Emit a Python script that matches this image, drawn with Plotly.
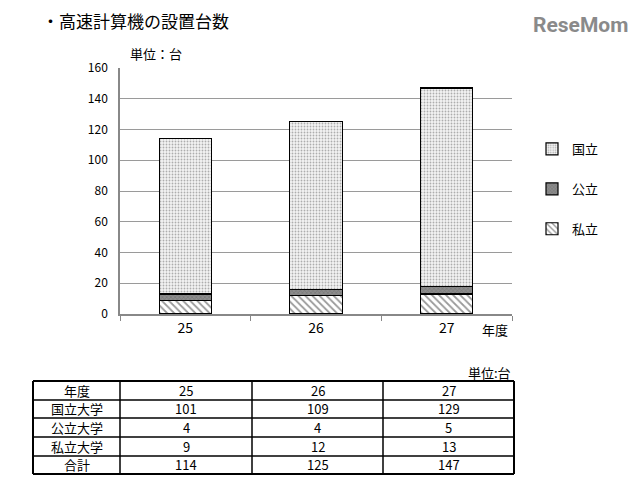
import plotly.graph_objects as go

years = ["25", "26", "27"]
kokuritsu = [101, 109, 129]
kouritsu = [4, 4, 5]
shiritsu = [9, 12, 13]
totals = [114, 125, 147]
row_labels = ["国立大学", "公立大学", "私立大学", "合計"]
y_ticks = [0, 20, 40, 60, 80, 100, 120, 140, 160]

FONT = "Noto Sans CJK JP, sans-serif"
OFF = 8  # page body margin
W, H = 640 - OFF, 503 - OFF


def fx(X):
    return (X - OFF) / W


def fy(Y):
    return 1 - (Y - OFF) / H


fig = go.Figure()

fig.add_trace(go.Bar(
    x=years, y=shiritsu, name="私立", legendgroup="c", legendrank=3,
    marker=dict(color="white", line=dict(color="black", width=1.2),
                pattern=dict(shape="\\", fgcolor="#333333", bgcolor="white", size=5, solidity=0.35)),
    width=0.4,
))
fig.add_trace(go.Bar(
    x=years, y=kouritsu, name="公立", legendgroup="b", legendrank=2,
    marker=dict(color="#7f7f7f", line=dict(color="black", width=1.2),
                pattern=dict(shape="x", fgcolor="#555555", bgcolor="#8c8c8c", size=3, solidity=0.3)),
    width=0.4,
))
fig.add_trace(go.Bar(
    x=years, y=kokuritsu, name="国立", legendgroup="a", legendrank=1,
    marker=dict(color="white", line=dict(color="black", width=1.2),
                pattern=dict(shape=".", fgcolor="#666666", bgcolor="#f4f4f4", size=3, solidity=0.3)),
    width=0.4,
))

fig.update_layout(
    width=W, height=H,
    barmode="stack",
    paper_bgcolor="white", plot_bgcolor="white",
    margin=dict(l=0, r=0, t=0, b=0, autoexpand=False),
    font=dict(family=FONT, size=12, color="black"),
    showlegend=True,
    legend=dict(x=fx(532), y=fy(134), xanchor="left", yanchor="top",
                traceorder="grouped", tracegroupgap=20,
                font=dict(family=FONT, size=13, color="black"),
                itemwidth=30, bgcolor="rgba(0,0,0,0)"),
    xaxis=dict(domain=[fx(120), fx(512)], showline=True, linecolor="#888888", linewidth=1.5,
               ticks="outside", tickcolor="#888888", ticklen=5,
               tickson="boundaries", showgrid=False,
               tickfont=dict(family=FONT, size=14, color="black")),
    yaxis=dict(domain=[fy(314), fy(68)], range=[0, 160], tickvals=y_ticks, showline=True,
               linecolor="#888888", linewidth=1.5, gridcolor="#9a9a9a", gridwidth=1,
               zeroline=False, ticks="", tickfont=dict(family=FONT, size=12, color="black"),
               ticklabelstandoff=8),
    bargap=0.6,
)

anns = [
    dict(text="・高速計算機の設置台数", x=fx(40), y=fy(20), xanchor="left", yanchor="middle",
         font=dict(size=17, family=FONT, color="black")),
    dict(text="<b>ReseMom</b>", x=fx(630), y=fy(25), xanchor="right", yanchor="middle",
         font=dict(size=21, family="Roboto, sans-serif", color="#8a8a8a")),
    dict(text="単位：台", x=fx(128), y=fy(53), xanchor="left", yanchor="middle",
         font=dict(size=13, family=FONT, color="black")),
    dict(text="年度", x=fx(480), y=fy(329), xanchor="left", yanchor="middle",
         font=dict(size=13, family=FONT, color="black")),
    dict(text="単位:台", x=fx(513), y=fy(372), xanchor="right", yanchor="middle",
         font=dict(size=13, family=FONT, color="black")),
]

# ---- data table built from the arrays ----
col_edges = [33, 120, 252, 383, 514]
row_edges = [381, 400, 418, 437, 456, 474]
table_rows = [["年度"] + years]
for label, vals in zip(row_labels, [kokuritsu, kouritsu, shiritsu, totals]):
    table_rows.append([label] + [str(v) for v in vals])

for r, row in enumerate(table_rows):
    yc = (row_edges[r] + row_edges[r + 1]) / 2
    for c, txt in enumerate(row):
        xc = (col_edges[c] + col_edges[c + 1]) / 2
        anns.append(dict(text=txt, x=fx(xc), y=fy(yc - 0.5), xanchor="center", yanchor="middle",
                         font=dict(size=13, family=FONT, color="black")))

for X in col_edges:
    w = 2 if X in (col_edges[0], col_edges[-1]) else 1.5
    fig.add_shape(type="line", xref="paper", yref="paper",
                  x0=fx(X), x1=fx(X), y0=fy(row_edges[0]), y1=fy(row_edges[-1]),
                  line=dict(color="black", width=w))
for Y in row_edges:
    w = 2 if Y in (row_edges[0], row_edges[-1]) else 1.5
    fig.add_shape(type="line", xref="paper", yref="paper",
                  x0=fx(col_edges[0]), x1=fx(col_edges[-1]), y0=fy(Y), y1=fy(Y),
                  line=dict(color="black", width=w))

for a in anns:
    a.update(xref="paper", yref="paper", showarrow=False)
    fig.add_annotation(**a)

fig.write_html("out.html")
